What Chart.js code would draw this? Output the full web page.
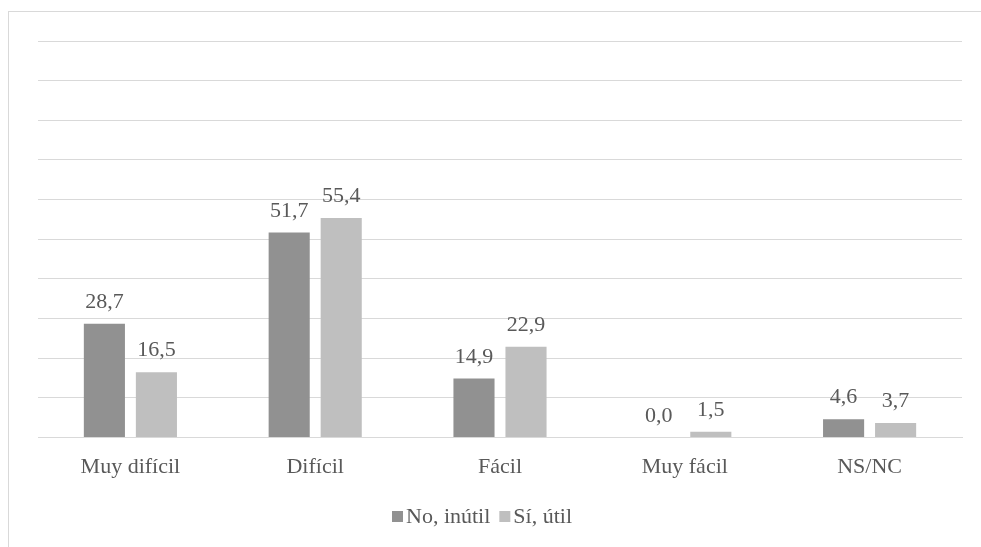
<!DOCTYPE html>
<html>
<head>
<meta charset="utf-8">
<script src="https://cdn.jsdelivr.net/npm/chart.js@4"></script>
<style>
  html, body { margin: 0; padding: 0; background: #fff; overflow: hidden; }
  #frame {
    position: absolute; left: 8px; top: 11px;
    width: 1200px; height: 800px;
    border: 1px solid #d9d9d9; box-sizing: border-box;
  }
  #wrap { position: absolute; left: 0; top: 0; width: 981px; height: 547px; }
</style>
</head>
<body>
<div id="frame"></div>
<div id="wrap"><canvas id="myChart"></canvas></div>
<script>
// chart data
const categories = ['Muy difícil', 'Difícil', 'Fácil', 'Muy fácil', 'NS/NC'];
const noInutil = [28.7, 51.7, 14.9, 0.0, 4.6];
const siUtil = [16.5, 55.4, 22.9, 1.5, 3.7];
const seriesNames = ['No, inútil', 'Sí, útil'];

const textColor = '#595959';
const fontFamily = '"Liberation Serif", "DejaVu Serif", serif';
const fontSize = 22;

// writes the value above every bar, like the excel data labels
const barValues = {
    id: 'barValues',
    afterDatasetsDraw(chart) {
        const ctx = chart.ctx;
        ctx.save();
        ctx.font = fontSize + 'px ' + fontFamily;
        ctx.fillStyle = textColor;
        ctx.textAlign = 'center';
        ctx.textBaseline = 'alphabetic';
        chart.data.datasets.forEach((ds, i) => {
            chart.getDatasetMeta(i).data.forEach((bar, j) => {
                const label = ds.data[j].toFixed(1).replace('.', ',');
                ctx.fillText(label, bar.x, bar.y - 16);
            });
        });
        ctx.restore();
    }
};

// small legend under the axis: square right next to the text
const smallLegend = {
    id: 'smallLegend',
    afterDraw(chart) {
        const ctx = chart.ctx;
        const box = 11;
        const gapText = 3;
        const gapItem = 9;
        const y = 517;
        ctx.save();
        ctx.font = fontSize + 'px ' + fontFamily;
        ctx.textBaseline = 'middle';
        ctx.textAlign = 'left';
        let x = chart.chartArea.left + 354;
        chart.data.datasets.forEach(ds => {
            ctx.fillStyle = ds.backgroundColor;
            ctx.fillRect(x, y - 6, box, box);
            ctx.fillStyle = textColor;
            ctx.fillText(ds.label, x + box + gapText, y);
            x += box + gapText + ctx.measureText(ds.label).width + gapItem;
        });
        ctx.restore();
    }
};

const ctx = document.getElementById('myChart');
const myChart = new Chart(ctx, {
    type: 'bar',
    data: {
        labels: categories,
        datasets: [
            {
                label: seriesNames[0],
                data: noInutil,
                backgroundColor: '#919191'
            },
            {
                label: seriesNames[1],
                data: siUtil,
                backgroundColor: '#bfbfbf'
            }
        ]
    },
    options: {
        responsive: true,
        maintainAspectRatio: false,
        animation: false,
        categoryPercentage: 0.563,
        barPercentage: 0.79,
        layout: {
            padding: { left: 38, right: 19, top: 41, bottom: 59 }
        },
        plugins: {
            legend: { display: false },
            tooltip: { enabled: false }
        },
        scales: {
            x: {
                grid: { display: false },
                border: { color: '#d9d9d9' },
                ticks: {
                    color: textColor,
                    font: { family: fontFamily, size: fontSize },
                    padding: 8
                }
            },
            y: {
                min: 0,
                max: 100,
                ticks: { display: false, stepSize: 10 },
                grid: { color: '#d9d9d9', lineWidth: 1, drawTicks: false },
                border: { display: false }
            }
        }
    },
    plugins: [barValues, smallLegend]
});
</script>
</body>
</html>
